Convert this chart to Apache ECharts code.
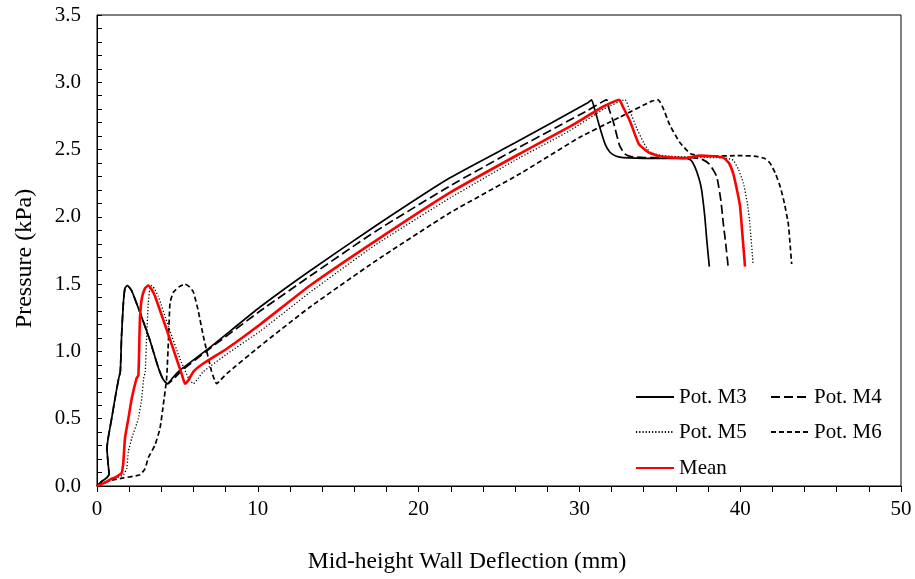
<!DOCTYPE html>
<html>
<head>
<meta charset="utf-8">
<script src="https://cdn.jsdelivr.net/npm/echarts@6/dist/echarts.min.js"></script>
<style>html,body{margin:0;padding:0;background:#fff}#c{width:915px;height:579px}</style>
</head>
<body>
<div id="c"></div>
<script>
var seriesNames = ['Pot. M3', 'Pot. M4', 'Pot. M5', 'Pot. M6', 'Mean'];
var xTicks = [0, 10, 20, 30, 40, 50];
var yTicks = [0.0, 0.5, 1.0, 1.5, 2.0, 2.5, 3.0, 3.5];

var potM3 = [[0,0],[0.3,0.035],[0.6,0.06],[0.75,0.09],[0.68,0.18],[0.62,0.28],[0.7,0.36],[0.91,0.5],[1.12,0.65],[1.35,0.8],[1.45,0.85],[1.53,1.12],[1.64,1.36],[1.74,1.47],[1.89,1.49],[2.16,1.45],[2.67,1.29],[3.3,1.08],[3.81,0.88],[4.12,0.79],[4.37,0.76],[4.75,0.81],[5.16,0.86],[7.03,1.03],[10.14,1.33],[13.25,1.6],[17.29,1.93],[21.95,2.29],[26.0,2.55],[30.55,2.85],[30.76,2.87],[30.95,2.8],[31.28,2.66],[31.6,2.54],[31.9,2.48],[32.3,2.45],[32.73,2.44],[34.5,2.435],[36.67,2.435],[36.95,2.42],[37.19,2.37],[37.45,2.28],[37.6,2.2],[37.8,2.0],[37.92,1.83],[38.08,1.63]];

var potM4 = [[0,0],[0.3,0.035],[0.6,0.06],[0.75,0.09],[0.68,0.18],[0.62,0.28],[0.7,0.36],[0.91,0.5],[1.12,0.65],[1.35,0.8],[1.45,0.85],[1.53,1.12],[1.64,1.36],[1.74,1.47],[1.89,1.49],[2.16,1.45],[2.67,1.29],[3.3,1.08],[3.81,0.88],[4.12,0.79],[4.4,0.76],[4.8,0.8],[5.2,0.85],[7.0,1.02],[10.14,1.3],[13.25,1.56],[17.29,1.89],[21.95,2.23],[26.0,2.5],[30.5,2.79],[31.5,2.86],[31.7,2.87],[31.85,2.8],[32.1,2.71],[32.5,2.53],[32.8,2.47],[33.15,2.45],[34.0,2.44],[37.0,2.44],[37.6,2.43],[38.1,2.39],[38.54,2.3],[38.8,2.12],[38.95,1.95],[39.1,1.8],[39.26,1.62]];

var potM5 = [[0,0],[0.4,0.02],[1.0,0.05],[1.64,0.083],[1.85,0.13],[1.95,0.256],[2.16,0.355],[2.57,0.5],[2.78,0.65],[2.9,0.8],[3.0,0.85],[3.09,1.12],[3.19,1.36],[3.28,1.46],[3.4,1.49],[3.6,1.46],[3.81,1.41],[4.43,1.19],[5.16,0.945],[5.7,0.8],[6.0,0.76],[6.3,0.8],[6.61,0.85],[8.07,0.98],[10.14,1.15],[13.25,1.44],[17.3,1.79],[21.95,2.14],[26.3,2.44],[29.4,2.64],[31.5,2.8],[32.84,2.87],[33.1,2.8],[33.56,2.66],[34.0,2.55],[34.39,2.48],[35.2,2.455],[36.5,2.445],[38.5,2.44],[39.2,2.435],[39.57,2.42],[39.9,2.35],[40.2,2.25],[40.45,2.1],[40.6,1.95],[40.8,1.65]];

var potM6 = [[0,0],[0.4,0.02],[1.0,0.045],[1.64,0.06],[2.67,0.083],[2.99,0.13],[3.19,0.21],[3.61,0.305],[3.92,0.43],[4.12,0.6],[4.33,0.8],[4.45,1.1],[4.54,1.36],[4.75,1.44],[5.1,1.48],[5.47,1.5],[5.75,1.48],[6.0,1.44],[6.3,1.3],[6.6,1.12],[7.13,0.85],[7.44,0.76],[7.7,0.79],[8.07,0.835],[10.14,1.04],[13.25,1.33],[17.3,1.67],[21.95,2.03],[26.3,2.32],[30.0,2.59],[32.5,2.74],[34.5,2.86],[34.9,2.87],[35.2,2.81],[35.63,2.68],[36.26,2.55],[36.9,2.47],[37.4,2.455],[37.9,2.45],[40.0,2.455],[41.0,2.45],[41.5,2.435],[41.85,2.4],[42.2,2.32],[42.5,2.22],[42.75,2.1],[42.99,1.95],[43.1,1.8],[43.2,1.65]];

var meanCurve = [[0,0],[0.39,0.02],[0.81,0.047],[1.22,0.07],[1.53,0.096],[1.64,0.18],[1.74,0.355],[1.95,0.5],[2.16,0.65],[2.46,0.8],[2.57,0.82],[2.62,1.0],[2.67,1.24],[2.78,1.39],[2.99,1.47],[3.19,1.49],[3.4,1.46],[3.61,1.41],[4.54,1.09],[5.3,0.82],[5.47,0.76],[5.7,0.79],[6.0,0.85],[6.61,0.91],[8.07,1.02],[10.14,1.2],[13.25,1.49],[17.3,1.82],[21.95,2.18],[26.3,2.47],[29.4,2.67],[31.5,2.82],[32.48,2.87],[32.7,2.82],[33.15,2.71],[33.7,2.54],[34.3,2.48],[35.0,2.45],[36.46,2.435],[37.5,2.455],[38.3,2.45],[38.95,2.44],[39.3,2.4],[39.57,2.32],[39.8,2.2],[39.99,2.08],[40.15,1.85],[40.3,1.63]];

var FONT = 'Liberation Serif';
var chart = echarts.init(document.getElementById('c'), null, {renderer: 'canvas'});

function mkSeries(name, data, color, width, type) {
  return {
    name: name, type: 'line', data: data, showSymbol: false, symbol: 'none',
    smooth: 0.15, animation: false,
    lineStyle: {color: color, width: width, type: type},
    itemStyle: {color: color}
  };
}
function mkLegend(name, left, top) {
  return {
    data: [name], left: left, top: top, padding: 0, itemWidth: 38, itemHeight: 22,
    itemStyle: {color: 'rgba(0,0,0,0)', borderWidth: 0, opacity: 0},
    textStyle: {fontFamily: FONT, fontSize: 21, color: '#000', lineHeight: 22},
    selectedMode: false
  };
}

chart.setOption({
  backgroundColor: '#fff',
  animation: false,
  grid: {left: 97, right: 14, top: 15, bottom: 91, show: true, borderColor: '#000', borderWidth: 1, backgroundColor: 'transparent'},
  legend: [
    mkLegend(seriesNames[0], 635, 386),
    mkLegend(seriesNames[1], 770, 386),
    mkLegend(seriesNames[2], 635, 421),
    mkLegend(seriesNames[3], 770, 421),
    mkLegend(seriesNames[4], 635, 457)
  ],
  xAxis: {
    type: 'value', min: xTicks[0], max: xTicks[xTicks.length - 1], interval: 10,
    name: 'Mid-height Wall Deflection (mm)', nameLocation: 'middle', nameGap: 64,
    nameTextStyle: {fontFamily: FONT, fontSize: 23.5, color: '#000', padding: [0, 64, 0, 0]},
    axisLine: {show: true, lineStyle: {color: '#000', width: 1}},
    axisTick: {show: true, inside: false, length: 6, lineStyle: {color: '#000'}},
    minorTick: {show: true, splitNumber: 5, length: 6, lineStyle: {color: '#000'}},
    splitLine: {show: false},
    axisLabel: {fontFamily: FONT, fontSize: 21, color: '#000', margin: 13,
      formatter: function (v) { return String(v); }}
  },
  yAxis: {
    type: 'value', min: yTicks[0], max: yTicks[yTicks.length - 1], interval: 0.5,
    name: 'Pressure (kPa)', nameLocation: 'middle', nameGap: 60,
    nameTextStyle: {fontFamily: FONT, fontSize: 24, color: '#000', padding: [0, 16, 0, 0]},
    axisLine: {show: true, lineStyle: {color: '#000', width: 1}},
    axisTick: {show: true, inside: true, length: 5, lineStyle: {color: '#000'}},
    minorTick: {show: true, splitNumber: 5, length: 5, lineStyle: {color: '#000'}},
    splitLine: {show: false},
    axisLabel: {fontFamily: FONT, fontSize: 21, color: '#000', margin: 16,
      formatter: function (v) { return v.toFixed(1); }}
  },
  series: [
    mkSeries(seriesNames[0], potM3, '#000', 1.7, 'solid'),
    mkSeries(seriesNames[1], potM4, '#000', 1.7, [9, 4]),
    mkSeries(seriesNames[2], potM5, '#000', 1.3, [1.2, 2]),
    mkSeries(seriesNames[3], potM6, '#000', 1.7, [5, 3]),
    mkSeries(seriesNames[4], meanCurve, '#ff0000', 2.6, 'solid')
  ]
});
</script>
</body>
</html>
